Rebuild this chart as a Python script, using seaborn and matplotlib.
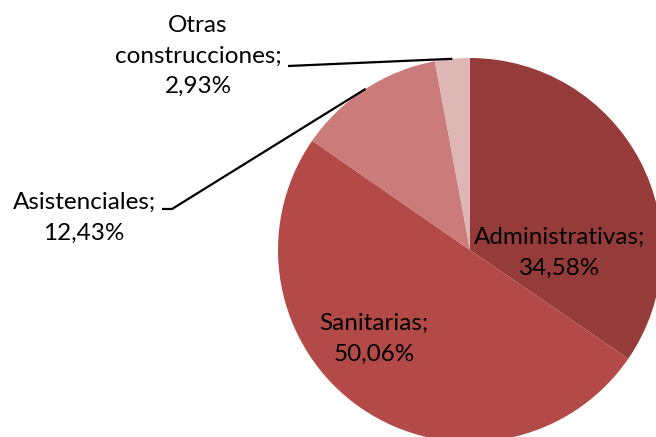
import numpy as np
import matplotlib
matplotlib.use('Agg')
import matplotlib.pyplot as plt
import seaborn as sns

# --- datos ---
categorias = ['Administrativas', 'Sanitarias', 'Asistenciales', 'Otras\nconstrucciones']
porcentajes = [34.58, 50.06, 12.43, 2.93]
colores = ['#953B39', '#B44A48', '#CB7B79', '#DFB6B6']

# posiciones de etiquetas (pixeles, origen arriba-izquierda)
pos_etiquetas = [(560, 253), (374, 339), (84, 218), (198, 56)]

W, H = 656, 437
CX, CY, R = 470, 250, 192

sns.set_theme(style='white')
plt.rcParams['font.family'] = ['Lato', 'DejaVu Sans']

fig = plt.figure(figsize=(W / 100, H / 100), dpi=100)
ax = fig.add_axes([0, 0, 1, 1])

ax.pie(porcentajes, colors=colores, startangle=90, counterclock=False,
       center=(CX, H - CY), radius=R, wedgeprops=dict(linewidth=0))
ax.set_xlim(0, W)
ax.set_ylim(0, H)
ax.set_aspect('equal')
ax.axis('off')

# angulos medios de cada porcion
ang = 90 - (np.cumsum(porcentajes) - np.array(porcentajes) / 2) * 3.6

def etiqueta(cat, val):
    return f"{cat};\n{val:.2f}%".replace('.', ',')

for i, (cat, val) in enumerate(zip(categorias, porcentajes)):
    x, y = pos_etiquetas[i]
    ax.text(x, H - y, etiqueta(cat, val), ha='center', va='center',
            fontsize=17.5, color='black', linespacing=1.55)

# lineas guia
for i, inicio in [(3, [(288, 66)]), (2, [(162, 209), (172, 209)])]:
    a = np.deg2rad(ang[i])
    px, py = CX + R * np.cos(a), CY - R * np.sin(a)
    pts = inicio + [(px, py)]
    ax.plot([p[0] for p in pts], [H - p[1] for p in pts], color='black', lw=1.6,
            solid_capstyle='butt')

fig.savefig('out.png', dpi=100)
